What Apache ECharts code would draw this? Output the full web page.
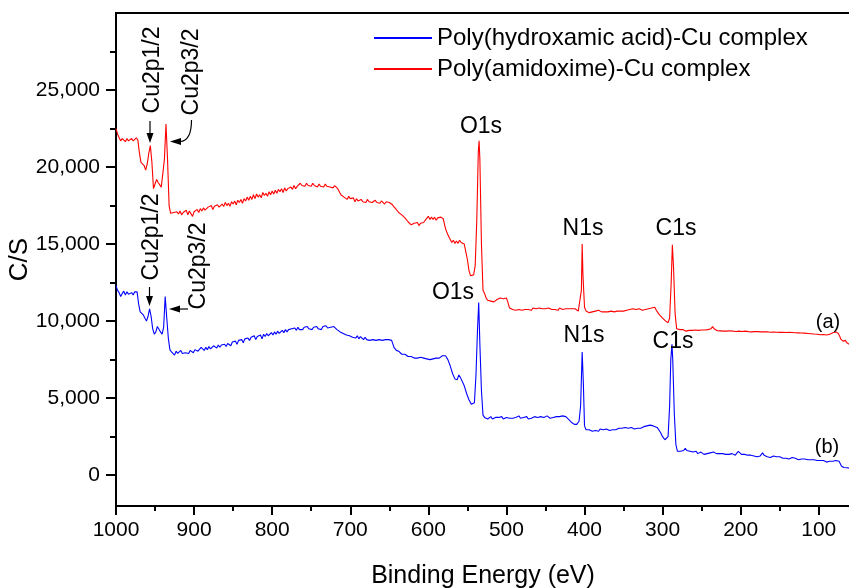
<!DOCTYPE html>
<html>
<head>
<meta charset="utf-8">
<script src="https://cdn.jsdelivr.net/npm/echarts@6/dist/echarts.min.js"></script>
<style>
html,body{margin:0;padding:0;background:#fff;}
#chart{width:849px;height:588px;}
</style>
</head>
<body>
<div id="chart"></div>
<script>
// ---- data (Binding energy in eV, counts C/S) ----
const seriesNames = ['Poly(hydroxamic acid)-Cu complex', 'Poly(amidoxime)-Cu complex'];

// (b) Poly(hydroxamic acid)-Cu complex
const hydroxamicSpectrum = [
[1000,12300],[998,12000],[996,11850],[994,11600],[992,11800],[990,11950],[988,11700],[986,11900],[984,11750],[982,11650],
[980,11850],[978,11700],[976,11900],[974,11800],[973,11900],
[971,11100],[969,10600],[967,10700],[965,10400],[963,10300],[961,10000],[959,10300],[957,10800],[955,10300],[953,9500],
[951,9150],[949,9300],[947,9650],[945,9600],[943,9300],[941,9150],[939,9600],[937,11600],[935,10200],[933,8900],
[931,8150],[929,8000],[927,7900],[925,7800],[923,8050],[921,7900],[919,7950],[917,8100],[915,7900],[913,8000],[911,7950],
[909,8050],[907,7900],[905,8100],[903,8000],[901,7950],[899,8150],[897,8250],[895,8050],[893,8150],[891,8300],[889,8200],
[887,8100],[885,8300],[883,8150],[881,8350],[879,8200],[877,8150],[875,8400],[873,8300],[871,8250],[869,8450],[867,8300],
[865,8450],[863,8350],[861,8500],[859,8350],[857,8550],[855,8450],[853,8400],[851,8650],[849,8550],[847,8700],[845,8500],
[843,8750],[841,8650],[839,8800],[837,8600],[835,8850],[833,8750],[831,8900],[829,8750],[827,8950],[825,8850],[823,9050],
[821,8800],[819,9000],[817,8900],[815,9100],[813,8850],[811,9150],[809,9000],[807,9200],[805,9050],[803,9150],[801,9250],
[799,9100],[797,9300],[795,9150],[793,9350],[791,9200],[789,9300],[787,9400],[785,9250],[783,9450],[781,9300],[779,9450],
[777,9350],[775,9500],[773,9400],[771,9550],[769,9400],[767,9600],[765,9450],[763,9550],[761,9450],[759,9600],[757,9500],
[755,9650],[753,9500],[751,9600],[749,9450],[747,9600],[745,9550],[743,9650],[741,9500],[739,9600],[737,9450],[735,9650],
[733,9550],[731,9700],[729,9550],[727,9650],[725,9600],[723,9500],[721,9650],[719,9550],[717,9450],[715,9400],[713,9300],
[711,9350],[709,9200],[707,9250],[705,9100],[703,9200],[701,9050],[699,9150],[697,8950],[695,9050],[693,8900],[691,9050],
[689,8850],[687,9000],[685,8900],[683,8800],[681,8950],[679,8800],[677,8900],[675,8750],[673,8850],[671,8800],[669,8900],
[667,8750],[665,8850],[663,8800],[661,8900],[659,8750],[657,8850],[655,8800],[653,8900],[651,8800],[649,8850],[647,8750],
[644,8300],[641,8100],[638,8050],[636,7950],[634,7850],[632,7950],[630,7850],[628,7750],[626,7700],[624,7800],[622,7700],
[620,7650],[618,7600],[616,7700],[614,7600],[612,7550],[610,7650],[608,7550],[606,7600],[604,7500],[602,7550],[600,7600],
[598,7500],[596,7600],[594,7550],[592,7650],[590,7600],[588,7700],[586,7600],[584,7700],[582,7750],[580,7700],[578,7750],
[575,7500],[572,7100],[569,6600],[566,6250],[563,6200],[561,6500],[559,6350],[557,6450],
[554,5800],[551,5300],[548,4900],[545,4600],[543,4500],[541,4700],[539,6500],[537,9500],[535.5,11200],[534,8500],
[532,5500],[530,3900],[528,3750],[526,3800],[524,3650],[522,3700],[520,3800],[518,3650],[516,3700],[514,3750],[512,3650],
[510,3750],[508,3700],[506,3800],[504,3650],[502,3700],[500,3750],[498,3650],[496,3700],[494,3800],[492,3700],[490,3650],
[488,3750],[486,3700],[484,3850],[482,3700],[480,3650],[478,3750],[476,3700],[474,3800],[472,3650],[470,3750],[468,3700],
[466,3650],[464,3800],[462,3700],[460,3750],[458,3650],[456,3800],[454,3700],[452,3750],[450,3700],[448,3850],[446,3750],
[444,3700],[442,3800],[440,3750],[438,3700],[436,3800],[434,3750],[432,3800],[430,3700],[428,3850],[426,3750],[424,3800],
[422,3700],[420,3600],
[416,3400],[413,3300],[410,3300],[407,3500],[405,4500],[403,8000],[401.5,6000],[400,3200],[398,2950],[396,2900],
[394,2950],[392,2900],[390,2850],[388,2950],[386,2900],[384,2950],[382,2850],[380,3000],[378,2900],[376,2950],[374,2900],
[372,3000],[370,2950],[368,2900],[366,3000],[364,2950],[362,3050],[360,2950],[358,3000],[356,3050],[354,2950],[352,3050],
[350,3000],[348,3100],[346,3000],[344,3050],[342,3000],[340,3100],[338,3050],[336,3000],[334,3100],[332,3050],[330,3150],
[328,3050],[326,3100],[324,3150],[322,3100],[320,3200],[318,3150],[316,3250],[314,3150],[312,3200],[310,3250],
[307,3100],[303,2800],[300,2500],[297,2300],[295,2250],[293,2500],[291,4500],[289.5,7500],[288,8500],
[287,7500],[285,4000],[283,2000],[281,1550],[279,1650],[277,1550],[275,1500],[273,1600],[271,1750],[269,1600],[267,1500],
[265,1550],[263,1450],[261,1500],[259,1450],[257,1550],[255,1400],[253,1450],[251,1500],[249,1400],[247,1350],[245,1450],
[243,1400],[241,1350],[239,1450],[237,1400],[235,1500],[233,1550],[231,1400],[229,1350],[227,1400],[225,1350],[223,1400],
[221,1300],[219,1350],[217,1300],[215,1350],[213,1300],[211,1400],[209,1350],[207,1300],[205,1400],[203,1550],[201,1600],
[199,1350],[197,1300],[195,1350],[193,1250],[191,1300],[189,1250],[187,1300],[185,1200],[183,1250],[181,1300],[179,1200],
[177,1250],[175,1250],[173,1350],[172,1450],[170,1300],[168,1250],[166,1200],[164,1250],[162,1150],[160,1200],[158,1250],
[156,1150],[154,1200],[152,1150],[150,1200],[148,1150],[146,1100],[144,1150],[142,1100],[140,1150],[138,1050],[136,1100],
[134,1150],[132,1050],[130,1100],[128,1050],[126,1000],[124,1100],[122,1050],[120,1000],[118,1050],[116,950],[114,1000],
[112,950],[110,1000],[108,950],[106,1000],[104,900],[102,950],[100,900],[98,950],[96,900],[94,950],[92,900],[90,850],
[88,950],[86,900],[84,950],[82,900],[80,950],[78,950],[76,1050],[74,900],[71,600],
[68,500],[66,520],[64,480],[62,470],[60,450]
];

// (a) Poly(amidoxime)-Cu complex
const amidoximeSpectrum = [
[1000,22500],[998,22150],[996,21900],[994,21700],[992,21850],[990,21950],[988,21650],[986,21850],[984,21700],[982,21600],
[980,21850],[978,21700],[976,21600],[974,21900],[972,21750],
[970,20900],[968,20300],[966,20400],[964,20100],[962,19800],[960,20200],[958,20900],[956,21400],[954,20300],[952,18600],
[950,18900],[948,19200],[946,19000],[944,19100],[942,18700],[940,18800],[938,20500],[936,22800],[934,20500],[932,17500],
[930,17000],[928,16900],[926,17050],[924,16950],[922,17100],[920,16950],[918,17150],[916,16900],[914,17050],[912,17000],
[910,17200],[908,16900],[906,17150],[904,17050],[902,16800],[900,17100],[898,17000],[896,17250],[894,17050],[892,17300],
[890,17150],[888,17350],[886,17200],[884,17100],[882,17400],[880,17300],[878,17500],[876,17250],[874,17450],[872,17350],
[870,17550],[868,17400],[866,17350],[864,17600],[862,17450],[860,17700],[858,17500],[856,17650],[854,17450],[852,17750],
[850,17600],[848,17800],[846,17550],[844,17850],[842,17700],[840,17900],[838,17650],[836,17950],[834,17800],[832,18050],
[830,17850],[828,18100],[826,17900],[824,18200],[822,17950],[820,18250],[818,18050],[816,18200],[814,18000],[812,18350],
[810,18150],[808,18300],[806,18100],[804,18400],[802,18200],[800,18450],[798,18250],[796,18500],[794,18300],[792,18550],
[790,18400],[788,18600],[786,18350],[784,18650],[782,18450],[780,18600],[778,18500],[776,18700],[774,18550],[772,18800],
[770,18600],[768,18750],[766,18650],[764,18950],[762,18800],[760,18900],[758,18750],[756,18950],[754,18800],[752,18900],
[750,18750],[748,18950],[746,18800],[744,18900],[742,18700],[740,18900],[738,18750],[736,18850],[734,18700],[732,18900],
[730,18750],[728,18850],[726,18700],[724,18800],[722,18650],[720,18800],[718,18700],[716,18600],[714,18400],[712,18200],
[710,18250],[708,18050],[706,18150],[704,17900],[702,18100],[700,17950],[698,17850],[696,18000],[694,17750],[692,17950],
[690,17800],[688,17700],[686,17900],[684,17750],[682,17850],[680,17700],[678,17900],[676,17750],[674,17850],[672,17700],
[670,17800],[668,17850],[666,17700],[664,17800],[662,17650],[660,17800],[658,17700],[656,17600],[654,17750],[652,17650],
[650,17700],[648,17600],[646,17550],[644,17500],[642,17300],[640,17200],[638,17050],[636,17000],[634,16900],[632,16800],
[630,16700],[628,16600],[626,16450],[624,16400],[622,16250],[620,16200],[618,16350],[616,16250],[614,16400],[612,16200],
[610,16350],[608,16450],[606,16400],[604,16550],[602,16650],[600,16800],[598,16600],[596,16750],[594,16600],[592,16750],
[590,16550],[588,16700],[586,16600],[584,16750],[582,16700],[581,16650],[578,16000],[575,15600],[572,15300],[570,15100],
[568,15250],[566,15050],[564,15200],[562,15050],[560,15250],[558,15100],[556,15200],
[554,15000],[552,14500],[550,14000],[548,13300],[546,12950],[544,12900],[542,13000],[540,13600],[538,16500],[536,21000],
[535,21700],[534,20500],[532,15000],[530,12000],[528,11800],[526,11500],[524,11350],[522,11450],[520,11300],[518,11400],
[516,11250],[514,11350],[512,11400],[510,11300],[508,11500],[506,11550],[504,11450],[502,11550],[500,11500],[498,11200],
[496,10850],[494,10800],[492,10750],[490,10800],[488,10700],[486,10800],[484,10750],[482,10850],[480,10700],[478,10800],
[476,10750],[474,10850],[472,10750],[470,10800],[468,10700],[466,10850],[464,10750],[462,10800],[460,10750],[458,10850],
[456,10750],[454,10800],[452,10700],[450,10800],[448,10750],[446,10850],[444,10800],[442,10750],[440,10850],[438,10750],
[436,10800],[434,10700],[432,10850],[430,10800],[428,10750],[426,10850],[424,10800],[422,10750],[420,10800],[418,10700],
[416,10800],[414,10750],[412,10800],[410,10700],[408,10650],[406,10750],[404,12000],[403,15000],[402,13000],[400,10900],
[398,10650],[396,10600],[394,10550],[392,10650],[390,10600],[388,10550],[386,10650],[384,10600],[382,10700],[380,10650],
[378,10600],[376,10700],[374,10600],[372,10650],[370,10600],[368,10700],[366,10650],[364,10700],[362,10600],[360,10700],
[358,10650],[356,10750],[354,10650],[352,10700],[350,10650],[348,10750],[346,10700],[344,10650],[342,10750],[340,10700],
[338,10800],[336,10700],[334,10750],[332,10700],[330,10800],[328,10750],[326,10700],[324,10800],[322,10750],[320,10850],
[318,10800],[316,10750],[314,10850],[312,10950],[310,10900],[308,10700],[306,10550],[304,10400],[302,10300],[300,10200],
[298,10100],[296,10000],[293,9900],[291,10200],[289,12500],[287.5,14950],[286,13500],[284,10500],[282,9500],[280,9400],
[278,9450],[276,9350],[274,9450],[272,9400],[270,9350],[268,9450],[266,9400],[264,9350],[262,9400],[260,9350],[258,9420],
[256,9380],[254,9400],[252,9350],[250,9420],[248,9380],[246,9420],[244,9380],[242,9450],[240,9430],[238,9500],[236,9650],
[234,9500],[232,9420],[230,9380],[228,9420],[226,9370],[224,9400],[222,9350],[220,9380],[218,9350],[216,9420],[214,9380],
[212,9400],[210,9350],[208,9380],[206,9330],[204,9400],[202,9350],[200,9380],[198,9330],[196,9400],[194,9350],[192,9380],
[190,9320],[188,9360],[186,9300],[184,9350],[182,9320],[180,9370],[178,9320],[176,9350],[174,9300],[172,9340],[170,9300],
[168,9350],[166,9310],[164,9340],[162,9280],[160,9330],[158,9290],[156,9320],[154,9280],[152,9320],[150,9270],[148,9310],
[146,9280],[144,9320],[142,9260],[140,9300],[138,9270],[136,9310],[134,9260],[132,9300],[130,9250],[128,9290],[126,9240],
[124,9280],[122,9230],[120,9270],[118,9220],[116,9260],[114,9200],[112,9240],[110,9180],[108,9210],[106,9160],[104,9200],
[102,9150],[100,9180],[98,9120],[96,9160],[94,9130],[92,9150],[90,9100],[88,9130],[86,9150],[84,9200],[82,9250],
[80,9280],[78,9300],[76,9250],[75,9200],[73,9000],[72,8850],[70,8750],[69,8700],[67,8800],[66,8750],[64,8600],[63,8550],
[61,8500],[60,8480]
];

// tick values
const xMajorTicks = [100,200,300,400,500,600,700,800,900,1000];
const xMinorTicks = [150,250,350,450,550,650,750,850,950];
const yMajorTicks = [0,5000,10000,15000,20000,25000];
const yMinorTicks = [2500,7500,12500,17500,22500,27500];

// annotation texts
const peakLabels = ['O1s','N1s','C1s'];
const cuLabels = ['Cu2p1/2','Cu2p3/2'];
const curveTags = ['(a)','(b)'];

// ---- chart ----
const FONT = '"Liberation Sans", Arial, sans-serif';
const chart = echarts.init(document.getElementById('chart'), null, {renderer:'canvas'});

function txt(text, x, y, size, rot) {
  return {
    type:'text', x:x, y:y, rotation: rot ? Math.PI/2 : 0, z:100,
    style:{text:text, fill:'#000', fontSize:size, fontFamily:FONT, align:'center', verticalAlign:'middle'}
  };
}
function arrowHead(tipX, tipY, dir) {
  let pts;
  if (dir === 'down') pts = [[tipX, tipY],[tipX-3.5, tipY-10],[tipX+3.5, tipY-10]];
  else pts = [[tipX, tipY],[tipX+11, tipY-3.5],[tipX+11, tipY+3.5]];
  return {type:'polygon', z:100, shape:{points:pts}, style:{fill:'#000'}};
}
function seg(x1,y1,x2,y2){
  return {type:'line', z:100, shape:{x1:x1,y1:y1,x2:x2,y2:y2}, style:{stroke:'#000', lineWidth:1.2}};
}

const graphics = [
  // red (a) annotations
  txt(cuLabels[0], 153, 70, 23, true),
  seg(150, 121, 150, 134), arrowHead(150, 143, 'down'),
  txt(cuLabels[1], 192, 72, 23, true),
  {type:'bezierCurve', z:100, shape:{x1:191.5, y1:120, cpx1:191.5, cpy1:141, x2:180, y2:141.5},
   style:{stroke:'#000', lineWidth:1.2, fill:null}},
  arrowHead(170, 141.5, 'left'),
  txt(peakLabels[0], 481, 127, 23),
  txt(peakLabels[1], 583, 229, 23),
  txt(peakLabels[2], 676, 229, 23),
  txt(curveTags[0], 828, 322, 20),
  // blue (b) annotations
  txt(cuLabels[0], 152, 237, 23, true),
  seg(149.5, 287, 149.5, 297), arrowHead(149.5, 306, 'down'),
  txt(cuLabels[1], 199, 266, 23, true),
  seg(188, 309, 180, 309), arrowHead(169, 309, 'left'),
  txt(peakLabels[0], 453, 293, 23),
  txt(peakLabels[1], 584, 336, 23),
  txt(peakLabels[2], 673, 342, 23),
  txt(curveTags[1], 827, 447, 20)
];

const axisLineStyle = {color:'#000', width:2};
const option = {
  backgroundColor:'#fff',
  animation:false,
  textStyle:{fontFamily:FONT},
  grid:{left:116, top:13, width:734, height:493, show:true, borderColor:'#000', borderWidth:2,
        backgroundColor:'transparent', containLabel:false, outerBoundsMode:'none'},
  legend:{
    orient:'vertical', left:374, top:26, icon:'rect', itemWidth:58, itemHeight:2, itemGap:7, padding:0,
    textStyle:{fontSize:24, color:'#000', fontFamily:FONT, lineHeight:24},
    data:seriesNames
  },
  xAxis:[
    {type:'value', min:60, max:1000, inverse:true, position:'bottom', offset:0,
     axisLine:{show:true, onZero:false, lineStyle:axisLineStyle},
     axisTick:{show:true, inside:false, length:9, customValues:xMajorTicks, lineStyle:{color:'#000', width:2}},
     axisLabel:{show:true, customValues:xMajorTicks, fontSize:21, color:'#000', margin:14, fontFamily:FONT,
       formatter:function(v){ return String(v); }},
     splitLine:{show:false},
     name:'Binding Energy (eV)', nameLocation:'middle', nameGap:58, nameMoveOverlap:false,
     nameTextStyle:{fontSize:25, color:'#000', fontFamily:FONT}},
    {type:'value', min:60, max:1000, inverse:true, position:'bottom', offset:0,
     axisLine:{show:false, onZero:false},
     axisTick:{show:true, inside:false, length:5, customValues:xMinorTicks, lineStyle:{color:'#000', width:2}},
     axisLabel:{show:false}, splitLine:{show:false}}
  ],
  yAxis:[
    {type:'value', min:-2000, max:30000, position:'left', offset:0,
     axisLine:{show:true, onZero:false, lineStyle:axisLineStyle},
     axisTick:{show:true, inside:false, length:10, customValues:yMajorTicks, lineStyle:{color:'#000', width:2}},
     axisLabel:{show:true, customValues:yMajorTicks, fontSize:21, color:'#000', margin:16, fontFamily:FONT,
       formatter:function(v){ return v===0 ? '0' : String(v).replace(/(\d)(?=(\d{3})+$)/g,'$1,'); }},
     splitLine:{show:false},
     name:'C/S', nameLocation:'middle', nameGap:83, nameRotate:90, nameMoveOverlap:false,
     nameTextStyle:{fontSize:26, color:'#000', fontFamily:FONT}},
    {type:'value', min:-2000, max:30000, position:'left', offset:0,
     axisLine:{show:false, onZero:false},
     axisTick:{show:true, inside:false, length:6, customValues:yMinorTicks, lineStyle:{color:'#000', width:2}},
     axisLabel:{show:false}, splitLine:{show:false}}
  ],
  series:[
    {name:seriesNames[0], type:'line', xAxisIndex:0, yAxisIndex:0, data:hydroxamicSpectrum,
     symbol:'none', showSymbol:false, color:'#0000ff', lineStyle:{color:'#0000ff', width:1.1}},
    {name:seriesNames[1], type:'line', xAxisIndex:0, yAxisIndex:0, data:amidoximeSpectrum,
     symbol:'none', showSymbol:false, color:'#ff0000', lineStyle:{color:'#ff0000', width:1.1}}
  ],
  graphic:graphics
};
chart.setOption(option);
</script>
</body>
</html>
